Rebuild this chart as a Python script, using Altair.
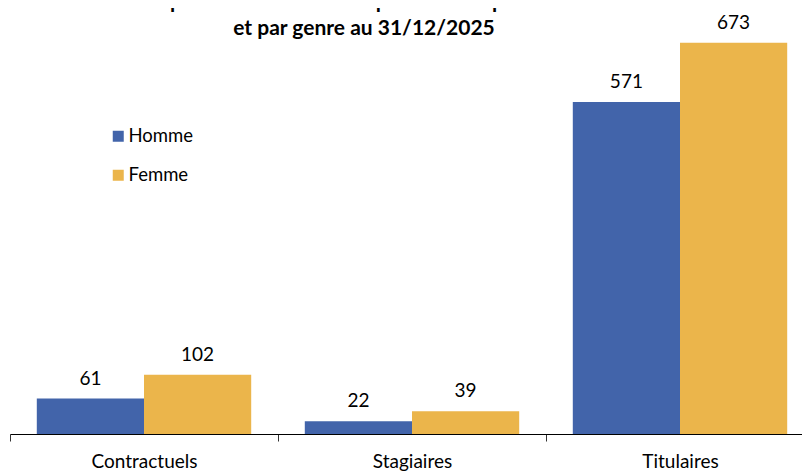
import altair as alt
import pandas as pd

categories = ["Contractuels", "Stagiaires", "Titulaires"]
genres = ["Homme", "Femme"]
homme = [61, 22, 571]
femme = [102, 39, 673]
colors = ["#4264AA", "#EBB54B"]
title_lines = ["Répartition des effectifs permanents par statut", "et par genre au 31/12/2025"]

rows = []
for c, h, f in zip(categories, homme, femme):
    rows.append({"statut": c, "genre": genres[0], "effectif": h})
    rows.append({"statut": c, "genre": genres[1], "effectif": f})
df = pd.DataFrame(rows)

FONT = "Lato"

x = alt.X(
    "statut:N", sort=categories, title=None,
    scale=alt.Scale(range=[0, 804], paddingInner=0, paddingOuter=0),
    axis=alt.Axis(labelAngle=0, tickBand="extent", tickSize=7, labelFontSize=19,
                  labelFont=FONT, labelColor="#000000", domainColor="#000000",
                  tickColor="#333333", labelPadding=11, domainWidth=1),
)
xo = alt.XOffset("genre:N", sort=genres,
                 scale=alt.Scale(paddingInner=0, paddingOuter=0.25))
y = alt.Y("effectif:Q", scale=alt.Scale(domain=[0, 700]), axis=None)

base = alt.Chart(df)

bars = base.mark_bar().encode(
    x=x, xOffset=xo, y=y,
    color=alt.Color(
        "genre:N", sort=genres, title=None,
        scale=alt.Scale(domain=genres, range=colors),
        legend=alt.Legend(orient="none", legendX=99, legendY=100, symbolType="square",
                          symbolSize=121, symbolStrokeWidth=0, labelFontSize=18.5,
                          labelFont=FONT, labelColor="#000000", rowPadding=20,
                          labelOffset=1, padding=0),
    ),
)

labels = base.mark_text(dy=-14, baseline="alphabetic", fontSize=19, font=FONT,
                        color="#000000").encode(
    x=x, xOffset=xo, y=y, text="effectif:Q"
)

chart = (
    alt.layer(bars, labels)
    .properties(
        width=792, height=407,
        title=alt.Title(title_lines, fontSize=21, font=FONT, fontWeight="bold",
                        anchor="middle", dx=-42, offset=0, dy=25, lineHeight=27,
                        color="#000000"),
        autosize=alt.AutoSizeParams(type="none"),
        padding={"left": 2, "top": 19, "right": 0, "bottom": 37},
        background="white",
    )
    .configure_view(stroke=None)
)

chart.save("out.html", embed_options={"renderer": "svg", "actions": False})
